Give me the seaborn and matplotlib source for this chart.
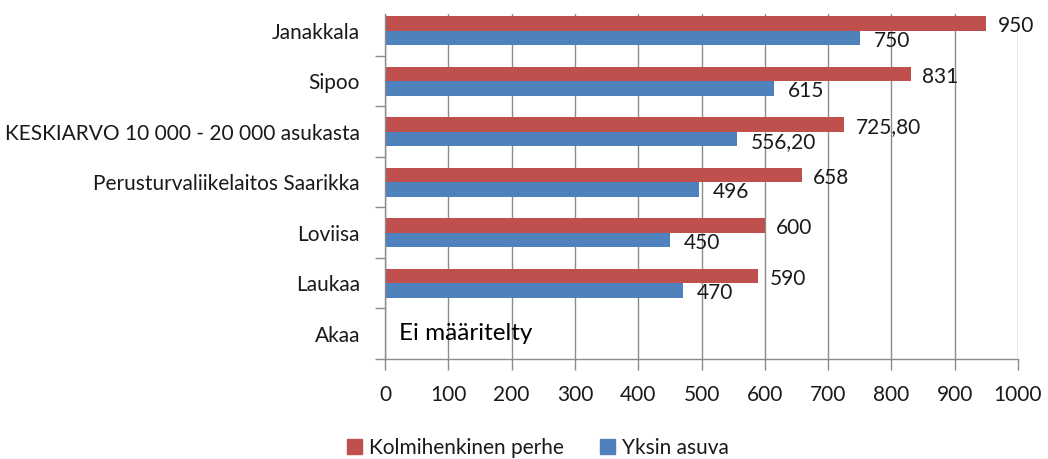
import numpy as np
import pandas as pd
import matplotlib
matplotlib.use("Agg")
import matplotlib.pyplot as plt
import seaborn as sns

# ---------------- Data ----------------
categories = [
    "Janakkala",
    "Sipoo",
    "KESKIARVO 10 000 - 20 000 asukasta",
    "Perusturvaliikelaitos Saarikka",
    "Loviisa",
    "Laukaa",
    "Akaa",
]
series_names = ["Kolmihenkinen perhe", "Yksin asuva"]
kolmihenkinen = [950, 831, 725.80, 658, 600, 590, np.nan]
yksin = [750, 615, 556.20, 496, 450, 470, np.nan]
x_ticks = list(range(0, 1001, 100))
no_data_text = "Ei määritelty"

colors = ["#C0504D", "#4F81BD"]

df = pd.DataFrame({
    "Kunta": categories * 2,
    "Sarja": [series_names[0]] * len(categories) + [series_names[1]] * len(categories),
    "Arvo": kolmihenkinen + yksin,
}).dropna()

# ---------------- Style ----------------
sns.set_theme(style="white")
plt.rcParams["font.family"] = ["Lato", "DejaVu Sans"]
FS = 15
TXT = "#1a1a1a"
GRID = "#8c8c8c"

fig = plt.figure(figsize=(10.48, 4.59), dpi=100)
ax = fig.add_axes([385 / 1048, 1 - 359 / 459, (1018 - 385) / 1048, (359 - 14) / 459])

sns.barplot(
    data=df, x="Arvo", y="Kunta", hue="Sarja",
    order=categories, hue_order=series_names,
    palette=colors, saturation=1, width=0.57,
    errorbar=None, orient="h", linewidth=0, ax=ax,
)
ax.legend_.remove()

ax.set_xlim(0, 1000)
ax.set_ylim(6.5, -0.33)
ax.set_xticks(x_ticks)
ax.set_xticklabels([str(t) for t in x_ticks], fontsize=FS, color=TXT)
ax.set_yticks(range(len(categories)))
ax.set_yticklabels(categories, fontsize=FS, color=TXT)
ax.set_yticks(np.arange(0.5, len(categories), 1.0), minor=True)
ax.tick_params(axis="y", which="major", length=0, pad=18)
ax.tick_params(axis="y", which="minor", length=7, width=1, color=GRID, left=True)
ax.tick_params(axis="x", length=8, width=1, color=GRID, bottom=True, pad=11)
ax.set_xlabel("")
ax.set_ylabel("")

ax.xaxis.grid(True, color=GRID, linewidth=1)
ax.set_axisbelow(True)
for side in ["top", "right"]:
    ax.spines[side].set_visible(False)
for side in ["left", "bottom"]:
    ax.spines[side].set_color(GRID)
    ax.spines[side].set_linewidth(1)


def fmt(v):
    if float(v).is_integer():
        return f"{v:.0f}"
    return f"{v:.2f}".replace(".", ",")


# data labels right of bar ends (Excel style, slightly below centre)
for container, off in zip(ax.containers, [(8, -2), (10, -2)]):
    for rect in container:
        w = rect.get_width()
        if np.isnan(w) or w == 0:
            continue
        yc = rect.get_y() + rect.get_height() / 2
        ax.annotate(fmt(w), xy=(w, yc), xytext=off, textcoords="offset points",
                    ha="left", va="center", fontsize=FS, color=TXT)

ax.text(22, categories.index("Akaa"), no_data_text, ha="left", va="center",
        fontsize=17.5, color="black")

# ---------------- Legend ----------------
handles = [plt.Rectangle((0, 0), 1, 1, color=c) for c in colors]
fig.legend(handles, series_names, loc="center", bbox_to_anchor=(0.513, 0.024),
           ncol=2, frameon=False, fontsize=FS, handlelength=0.75, handleheight=0.75,
           handletextpad=0.3, columnspacing=1.75, labelcolor=TXT,
           borderpad=0.2)

fig.savefig("out.png", dpi=100)
